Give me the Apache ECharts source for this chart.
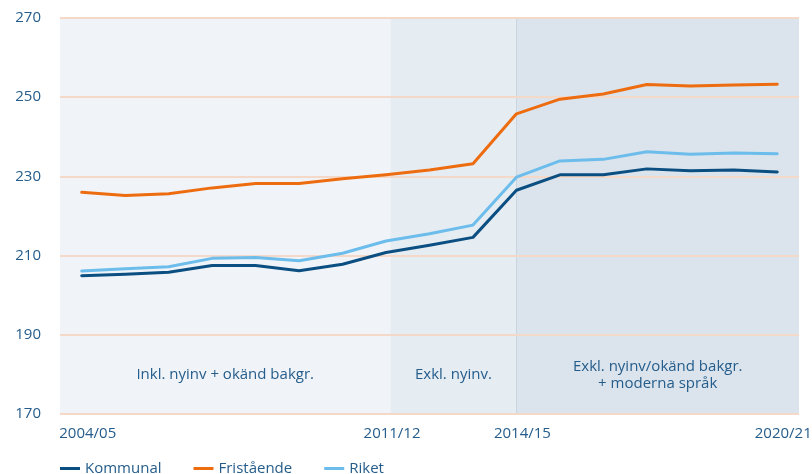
<!DOCTYPE html>
<html>
<head>
<meta charset="utf-8">
<script src="https://cdn.jsdelivr.net/npm/echarts@6/dist/echarts.min.js"></script>
<style>
  html, body { margin: 0; padding: 0; background: #fff; }
  #chart { width: 812px; height: 474px; }
</style>
</head>
<body>
<div id="chart"></div>
<script>
const categories = ['2004/05', '2005/06', '2006/07', '2007/08', '2008/09', '2009/10', '2010/11', '2011/12',
  '2012/13', '2013/14', '2014/15', '2015/16', '2016/17', '2017/18', '2018/19', '2019/20', '2020/21'];
const shownLabels = ['2004/05', '2011/12', '2014/15', '2020/21'];

const kommunal = [204.9, 205.3, 205.8, 207.5, 207.5, 206.2, 207.8, 210.8, 212.6, 214.6, 226.5, 230.4, 230.4, 231.9, 231.4, 231.6, 231.1];
const fristaende = [226.0, 225.2, 225.6, 227.1, 228.2, 228.2, 229.4, 230.4, 231.6, 233.2, 245.8, 249.5, 250.8, 253.2, 252.8, 253.1, 253.3];
const riket = [206.1, 206.7, 207.2, 209.3, 209.5, 208.7, 210.6, 213.7, 215.5, 217.7, 229.8, 233.9, 234.3, 236.2, 235.6, 235.9, 235.7];

// periods in category-index units (start, end, label)
const periodStart = [-0.5, 7.1, 10];
const periodEnd = [7.1, 10, 16.5];
const periodText = ['Inkl. nyinv + okänd bakgr.', 'Exkl. nyinv.', 'Exkl. nyinv/okänd bakgr.\n+ moderna språk'];
const periodColor = ['#f0f4f8', '#e5ecf2', '#dbe4ec'];

const textColor = '#245c8b';
const font = 'Open Sans';

const chart = echarts.init(document.getElementById('chart'));

const areas = periodText.map((t, i) => [
  {
    xAxis: periodStart[i],
    itemStyle: { color: periodColor[i] },
    label: {
      show: true,
      formatter: t,
      position: ['50%', 357],
      align: 'center',
      verticalAlign: 'middle',
      color: textColor,
      fontFamily: font,
      fontSize: 15,
      lineHeight: 17,
    },
  },
  { xAxis: periodEnd[i] },
]);

const lineStyle = color => ({ color: color, width: 3, cap: 'round', join: 'round' });

chart.setOption({
  animation: false,
  textStyle: { fontFamily: font },
  grid: { left: 60, right: 13, top: 18, bottom: 60, containLabel: false, outerBoundsMode: 'none' },
  legend: {
    data: ['Kommunal', 'Fristående', 'Riket'],
    left: 55,
    top: 456,
    itemWidth: 20,
    itemHeight: 10,
    itemGap: 32,
    icon: 'path://M0,4 L20,4 L20,7 L0,7 Z',
    textStyle: { color: textColor, fontSize: 15, fontFamily: font },
  },
  xAxis: [
    {
      type: 'category',
      data: categories,
      boundaryGap: true,
      axisLine: { show: false },
      axisTick: { show: false },
      axisLabel: {
        interval: (i, v) => shownLabels.includes(v),
        color: textColor,
        fontSize: 15,
        fontFamily: font,
        margin: 12,
        padding: [0, 0, 0, 12],
      },
    },
    {
      type: 'value',
      min: -0.5,
      max: 16.5,
      show: false,
    },
  ],
  yAxis: {
    type: 'value',
    min: 170,
    max: 270,
    interval: 20,
    z: 6,
    axisLine: { show: false },
    axisTick: { show: false },
    axisLabel: { color: textColor, fontSize: 15, fontFamily: font, margin: 19 },
    splitLine: { lineStyle: { color: '#f4d8c8', width: 2 } },
  },
  series: [
    {
      name: 'bands',
      type: 'line',
      xAxisIndex: 1,
      data: [],
      z: 1,
      silent: true,
      markArea: { silent: true, z: 1, data: areas },
      markLine: {
        silent: true,
        z: 1,
        symbol: 'none',
        label: { show: false },
        lineStyle: { color: '#c9d6e1', width: 1, type: 'solid' },
        data: [{ xAxis: periodStart[2] }],
      },
    },
    { name: 'Kommunal', type: 'line', data: kommunal, symbol: 'none', lineStyle: lineStyle('#0b4f82'), itemStyle: { color: '#0b4f82' }, z: 9 },
    { name: 'Fristående', type: 'line', data: fristaende, symbol: 'none', lineStyle: lineStyle('#ee6c10'), itemStyle: { color: '#ee6c10' }, z: 8 },
    { name: 'Riket', type: 'line', data: riket, symbol: 'none', lineStyle: lineStyle('#6cbdeb'), itemStyle: { color: '#6cbdeb' }, z: 8 },
  ],
});
</script>
</body>
</html>
